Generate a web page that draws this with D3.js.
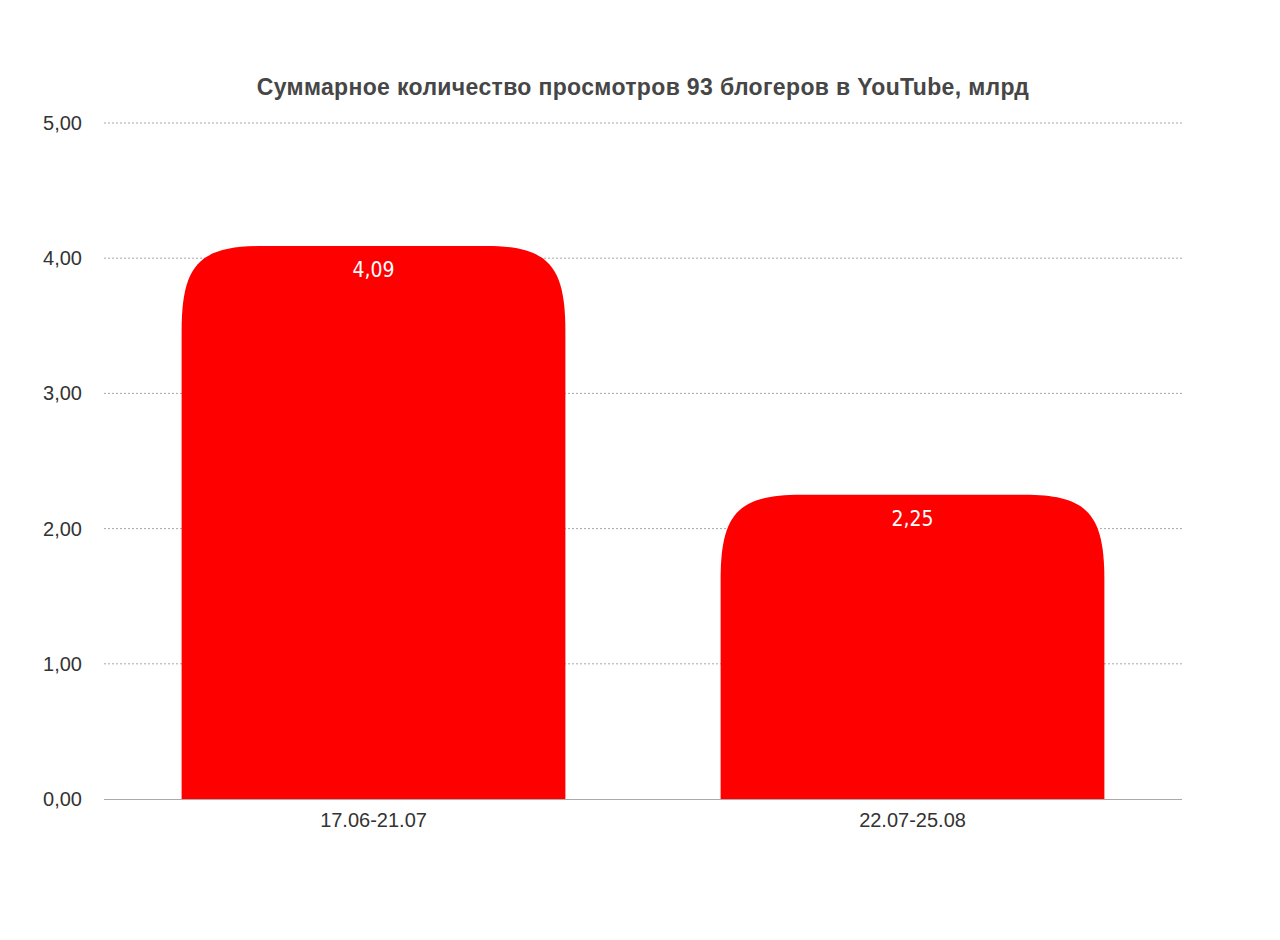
<!DOCTYPE html>
<html><head><meta charset="utf-8">
<script src="https://cdn.jsdelivr.net/npm/d3@7"></script>
<style>body{margin:0;background:#fff}svg{display:block}</style>
</head><body>
<script>
const categories = ["17.06-21.07", "22.07-25.08"];
const values = [4.09, 2.25];
const tickValues = [0, 1, 2, 3, 4, 5];
const title = "Суммарное количество просмотров 93 блогеров в YouTube, млрд";

const W = 1280, H = 940;
const svg = d3.select("body").append("svg").attr("width", W).attr("height", H);
const x = d3.scaleBand().domain(categories).range([104, 1182]).paddingInner(0.288).paddingOuter(0.144);
const y = d3.scaleLinear().domain([0, 5]).range([799, 123]);
const fmt = v => v.toFixed(2).replace(".", ",");

svg.append("text").attr("x", 643).attr("y", 95).attr("text-anchor", "middle")
  .attr("font-family", "'Liberation Sans', Arial, sans-serif").attr("font-weight", 700)
  .attr("font-size", 23).attr("letter-spacing", 0.35).attr("fill", "#464646").text(title);

// grid
svg.append("g").selectAll("line").data(tickValues.filter(d => d > 0)).join("line")
  .attr("x1", 104).attr("x2", 1182).attr("y1", d => y(d)).attr("y2", d => y(d))
  .attr("stroke", "#a8a8a8").attr("stroke-width", 1).attr("stroke-dasharray", "2,2");

// y axis labels
const yAxis = d3.axisLeft(y).tickValues(tickValues).tickFormat(fmt).tickSize(0).tickPadding(22);
const ya = svg.append("g").attr("transform", "translate(104,0)").call(yAxis);
ya.select(".domain").remove();
ya.selectAll("text").attr("font-family", "'Liberation Sans', Arial, sans-serif").attr("font-size", 20).attr("fill", "#333");

// bars
function barPath(x0, w, yt, yb) {
  const rx = Math.min(80, w / 2), ry = Math.min(85, yb - yt);
  const k = 0.22;
  const x1 = x0 + w;
  return `M${x0},${yb} L${x0},${yt + ry} C${x0},${yt + ry * k} ${x0 + rx * k},${yt} ${x0 + rx},${yt} ` +
    `L${x1 - rx},${yt} C${x1 - rx * k},${yt} ${x1},${yt + ry * k} ${x1},${yt + ry} L${x1},${yb} Z`;
}
svg.append("g").selectAll("path").data(categories).join("path")
  .attr("d", (c, i) => barPath(x(c), x.bandwidth(), y(values[i]), y(0)))
  .attr("fill", "#ff0000");

// baseline
svg.append("line").attr("x1", 104).attr("x2", 1182).attr("y1", y(0) + 0.5).attr("y2", y(0) + 0.5)
  .attr("stroke", "#aaa").attr("stroke-width", 1);

// x axis labels
const xAxis = d3.axisBottom(x).tickSize(0).tickPadding(14);
const xa = svg.append("g").attr("transform", `translate(0,${y(0)})`).call(xAxis);
xa.select(".domain").remove();
xa.selectAll("text").attr("font-family", "'Liberation Sans', Arial, sans-serif").attr("font-size", 20).attr("fill", "#333");

// value labels
svg.append("g").selectAll("text").data(categories).join("text")
  .attr("x", c => x(c) + x.bandwidth() / 2)
  .attr("y", (c, i) => y(values[i]) + 31)
  .attr("text-anchor", "middle")
  .attr("font-family", "'Liberation Sans Narrow', 'DejaVu Sans Condensed', sans-serif")
  .attr("font-stretch", "condensed")
  .attr("font-size", 21).attr("fill", "#fff")
  .text((c, i) => fmt(values[i]));
</script>
</body></html>
